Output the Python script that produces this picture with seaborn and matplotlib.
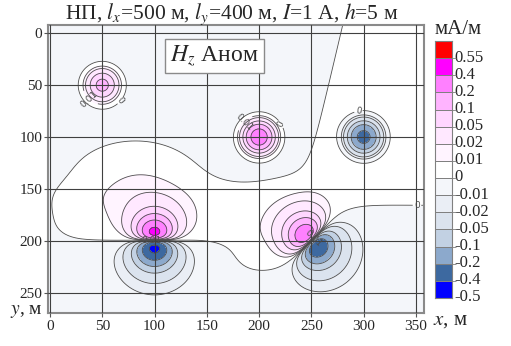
import numpy as np
import matplotlib
matplotlib.use("Agg")
import matplotlib.pyplot as plt
from matplotlib.colors import ListedColormap
import seaborn as sns

# ---- colour scale (label = lower bound of each class) ----
level_labels = ["0.55", "0.4", "0.2", "0.1", "0.05", "0.02", "0.01", "0",
                "-0.01", "-0.02", "-0.05", "-0.1", "-0.2", "-0.4", "-0.5"]
level_values = [0.55, 0.4, 0.2, 0.1, 0.05, 0.02, 0.01, 0.0,
                -0.01, -0.02, -0.05, -0.1, -0.2, -0.4, -0.5]
level_colors = ["#ff0000", "#ff00ff", "#ff80ff", "#ffb4ff", "#ffd6ff", "#ffe8ff",
                "#fff4ff", "#ffffff", "#f4f6fa", "#eaeef5", "#dbe3ee", "#c2d1e3",
                "#8ca9cc", "#3d69a0", "#0000ff"]

# ---- isolated anomalies ----
blob_x = [50, 200, 300]
blob_y = [50, 100, 100]
blob_amp = [0.13, 0.32, -0.26]
blob_width = [8.7, 8.2, 8.8]

# ---- dipole anomalies ----
dip_x = [100, 250]
dip_y = [199.5, 200]
dip_amp = [0.48, 0.36]
dip_angle = [90, 45]
dip_depth = [17.9, 19.0]

# ---- regional background ----
reg_pos = 0.004
reg_neg = 0.008
edge_x = [280, 252]
edge_y = [-8, 112]
edge_bottom = 148
bot_left = 198
bot_right = 166
bump_x = [80, 195, -15]
bump_y = [140, 215, 180]
bump_amp = [0.0103, 0.004, -0.007]
bump_sx = [40, 25, 18]
bump_sy = [25, 18, 35]

x_ticks = [0, 50, 100, 150, 200, 250, 300, 350]
y_ticks = [0, 50, 100, 150, 200, 250]


def sig(t):
    return 1.0 / (1.0 + np.exp(-t))


gx = np.linspace(-2, 360, 725)
gy = np.linspace(-10, 272, 565)
X, Y = np.meshgrid(gx, gy)

# regional field
dxl, dyl = edge_x[1] - edge_x[0], edge_y[1] - edge_y[0]
L = np.hypot(dxl, dyl)
nx, ny = dyl / L, -dxl / L
s_r = nx * (X - edge_x[1]) + ny * (Y - edge_y[1])
TL = sig(-s_r / 8.0) * sig((edge_bottom - Y) / 8.0)
yb = bot_left - (bot_left - bot_right) * sig((X - 265) / 15.0)
BOT = sig((Y - yb) / 6.0)
Z = reg_pos - reg_neg * (TL + BOT)
for bx, by, ba, sx, sy in zip(bump_x, bump_y, bump_amp, bump_sx, bump_sy):
    Z += ba * np.exp(-((X - bx) ** 2 / (2 * sx ** 2) + (Y - by) ** 2 / (2 * sy ** 2)))

for bx, by, ba, s in zip(blob_x, blob_y, blob_amp, blob_width):
    Z += ba * np.exp(-((X - bx) ** 2 + (Y - by) ** 2) / (2 * s * s))

peak_norm = (1 / np.sqrt(5)) / (1.2 ** 3)
for x0, y0, a, ang, h in zip(dip_x, dip_y, dip_amp, dip_angle, dip_depth):
    ux, uy = np.cos(np.radians(ang)), np.sin(np.radians(ang))
    dx, dy = X - x0, Y - y0
    g = (dx * ux + dy * uy) / (dx * dx + dy * dy + h * h) ** 3
    Z -= a * g * h ** 5 / peak_norm

# ---- styling ----
sns.set_style("ticks")
plt.rcParams["font.family"] = ["Liberation Serif", "DejaVu Serif"]
plt.rcParams["mathtext.fontset"] = "stix"
plt.rcParams["contour.negative_linestyle"] = "solid"

fig = plt.figure(figsize=(5.11, 3.46), dpi=100)
fig.patch.set_facecolor("white")
ax = fig.add_axes([48.3 / 511, 1 - 313.3 / 346, (424.3 - 48.3) / 511, (313.3 - 25) / 346])

asc_vals = sorted(level_values)
fill_levels = [-10] + asc_vals[1:] + [10]
fill_colors = level_colors[::-1]
ax.contourf(X, Y, Z, levels=fill_levels, colors=fill_colors)
cs = ax.contour(X, Y, Z, levels=asc_vals, colors="#4d4d4d", linewidths=0.6,
                linestyles="solid")
lbls = ax.clabel(cs, levels=[0.0, 0.01], fmt=lambda v: f"{v:g}", fontsize=6.5,
                 inline=True, inline_spacing=2)
for t in lbls:
    t.set_family("DejaVu Sans")

ax.set_xlim(-1.6, 358)
ax.set_ylim(270, -8)
ax.set_xticks(x_ticks)
ax.set_yticks(y_ticks)
ax.set_xticklabels([str(v) for v in x_ticks])
ax.set_yticklabels([str(v) for v in y_ticks])
ax.set_axisbelow(False)
ax.grid(True, color="#404040", linewidth=0.8)
ax.tick_params(axis="both", labelsize=11, length=3, width=0.8, color="#555555", pad=1.5)
for sp in ax.spines.values():
    sp.set_visible(True)
    sp.set_color("#8a8a8a")
    sp.set_linewidth(1.5)

# inset label
ax.text(214.5 / 511, 1 - 56 / 346, r"$H_z$ Аном", transform=fig.transFigure,
        ha="center", va="center", fontsize=17,
        bbox=dict(boxstyle="square,pad=0.2", facecolor="white", edgecolor="#8a8a8a", linewidth=1))

# title and axis captions
fig.text(232 / 511, 1 - 14 / 346, r"НП, $l_x$=500 м, $l_y$=400 м, $I$=1 А, $h$=5 м",
         ha="center", va="center", fontsize=15.5)
fig.text(458 / 511, 1 - 30 / 346, "мА/м", ha="center", va="center", fontsize=15)
fig.text(433 / 511, 1 - 321 / 346, r"$x$, м", ha="left", va="center", fontsize=15)
fig.text(10 / 511, 1 - 312 / 346, r"$y$, м", ha="left", va="center", fontsize=14)

# colour bar built with seaborn heatmap
cax = fig.add_axes([435 / 511, 1 - 298 / 346, 17 / 511, 257 / 346])
sns.heatmap(np.arange(len(level_colors)).reshape(-1, 1), cmap=ListedColormap(level_colors),
            vmin=-0.5, vmax=len(level_colors) - 0.5, cbar=False, linewidths=0.6,
            linecolor="#808080", ax=cax, xticklabels=False, yticklabels=False)
cax.yaxis.tick_right()
cax.set_yticks(np.arange(len(level_labels)) + 0.85)
cax.set_yticklabels(level_labels, rotation=0)
cax.set_yticks(np.arange(1, len(level_labels)), minor=True)
cax.tick_params(axis="y", which="major", length=0, pad=2, labelsize=12,
                labelright=True, labelleft=False, right=False, left=False)
cax.tick_params(axis="y", which="minor", length=3, color="#808080", right=True, left=False)
cax.tick_params(axis="x", length=0)
for sp in cax.spines.values():
    sp.set_visible(True)
    sp.set_color("#808080")
    sp.set_linewidth(0.8)

fig.savefig("out.png", dpi=100, facecolor="white")
